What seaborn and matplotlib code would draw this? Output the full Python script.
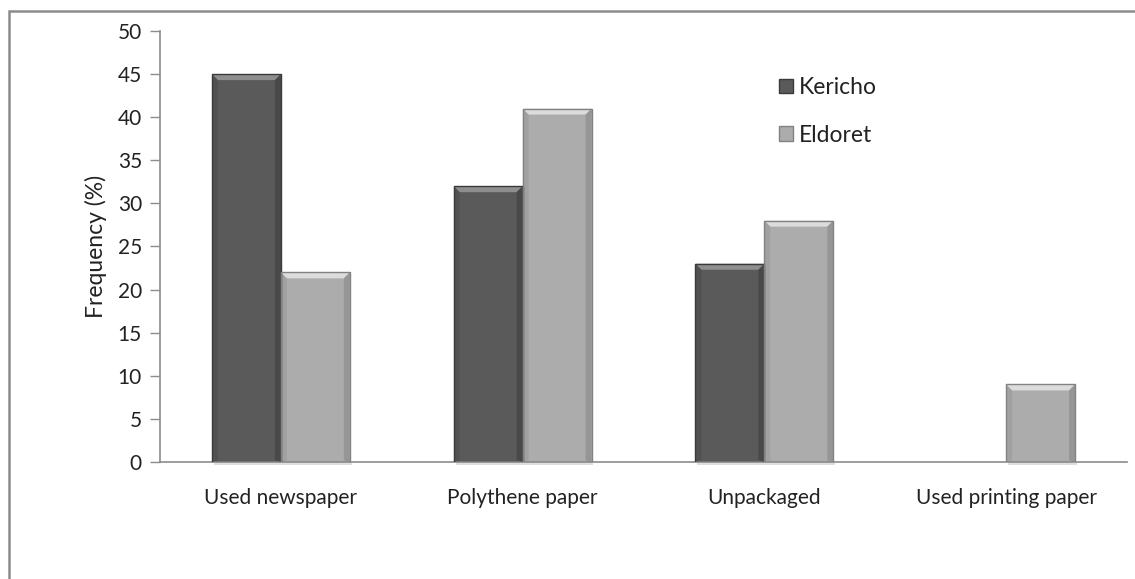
import matplotlib
matplotlib.use("Agg")
import matplotlib.pyplot as plt
import seaborn as sns
import pandas as pd
from matplotlib.patches import Polygon, Rectangle

# Packaging type by town
categories = ["Used newspaper", "Polythene paper", "Unpackaged", "Used printing paper"]
kericho = [45, 32, 23, 0]
eldoret = [22, 41, 28, 9]
towns = ["Kericho", "Eldoret"]
y_ticks = [0, 5, 10, 15, 20, 25, 30, 35, 40, 45, 50]

df = pd.DataFrame({
    "category": categories * 2,
    "town": [towns[0]] * len(categories) + [towns[1]] * len(categories),
    "value": kericho + eldoret,
})

sns.set_theme(style="white")
plt.rcParams["font.family"] = ["Lato", "DejaVu Sans"]

W, H = 1135, 579
fig = plt.figure(figsize=(W / 100, H / 100), dpi=100)
ax = fig.add_axes([160 / W, 1 - 462 / H, (1127 - 160) / W, (462 - 31) / H])

face = {"Kericho": "#5a5a5a", "Eldoret": "#acacac"}
edge = {"Kericho": "#3a3a3a", "Eldoret": "#828282"}
light = {"Kericho": "#8e8e8e", "Eldoret": "#dcdcdc"}

sns.barplot(data=df, x="category", y="value", hue="town", hue_order=towns,
            palette=face, width=0.57, gap=0, saturation=1, ax=ax,
            edgecolor="none", linewidth=0, legend=False)

# bevelled look on each bar: soft shadow, dark rim and lighter top facet
bars = list(ax.patches)
px_per_x = (1127 - 160) / len(categories)
px_per_y = (462 - 31) / 50
bx = 6 / px_per_x
by = 6 / px_per_y
order = [t for t in towns for _ in categories]
for p, town in zip(bars, order):
    x0, w, h = p.get_x(), p.get_width(), p.get_height()
    if h <= 0:
        continue
    x1 = x0 + w
    ax.add_patch(Rectangle((x0 + 0.008, -0.35), w, 0.35, facecolor="#dedede",
                           edgecolor="none", zorder=1.5, clip_on=False))
    ax.add_patch(Polygon([(x0, h), (x1, h), (x1 - bx, h - by), (x0 + bx, h - by)],
                         closed=True, facecolor=light[town], edgecolor="none", zorder=3))
    ax.add_patch(Polygon([(x0, h), (x0 + bx, h - by), (x0 + bx, by * 0.3), (x0, 0)],
                         closed=True, facecolor=edge[town], edgecolor="none", alpha=0.25, zorder=3))
    ax.add_patch(Polygon([(x1, h), (x1 - bx, h - by), (x1 - bx, by * 0.3), (x1, 0)],
                         closed=True, facecolor=edge[town], edgecolor="none", alpha=0.5, zorder=3))
    ax.add_patch(Rectangle((x0, 0), w, h, facecolor="none", edgecolor=edge[town],
                           linewidth=1.0, zorder=3.5))

ax.set_ylim(0, 50)
ax.set_xlim(-0.5, len(categories) - 0.5)
ax.set_yticks(y_ticks)
ax.set_xlabel("")
ax.set_ylabel("Frequency (%)", fontsize=16.5, color="#222222", labelpad=8)

for s in ["top", "right"]:
    ax.spines[s].set_visible(False)
for s in ["left", "bottom"]:
    ax.spines[s].set_color("#8c8c8c")
    ax.spines[s].set_linewidth(1.2)
ax.tick_params(axis="y", which="major", left=True, length=7, width=1.0,
               color="#8c8c8c", labelsize=15, labelcolor="#222222", pad=6)
ax.tick_params(axis="x", bottom=False, labelsize=15, labelcolor="#222222", pad=13)

# legend
handles = [Rectangle((0, 0), 1, 1, facecolor=face[t], edgecolor=edge[t], linewidth=1) for t in towns]
leg = ax.legend(handles, towns, loc="upper left",
                bbox_to_anchor=((770 - 160) / (1127 - 160), 1 - (68 - 31) / (462 - 31)),
                frameon=False, fontsize=16.5, handlelength=0.6, handleheight=0.6,
                handletextpad=0.25, labelspacing=1.15, borderaxespad=0)
for t in leg.get_texts():
    t.set_color("#222222")

# outer chart frame
fig.patches.append(Rectangle((9 / W, -0.1), 1.2, 1 - 11 / H + 0.1, transform=fig.transFigure,
                             facecolor="none", edgecolor="#8c8c8c", linewidth=1.8, zorder=0))

fig.savefig("out.png", dpi=100, facecolor="white")
